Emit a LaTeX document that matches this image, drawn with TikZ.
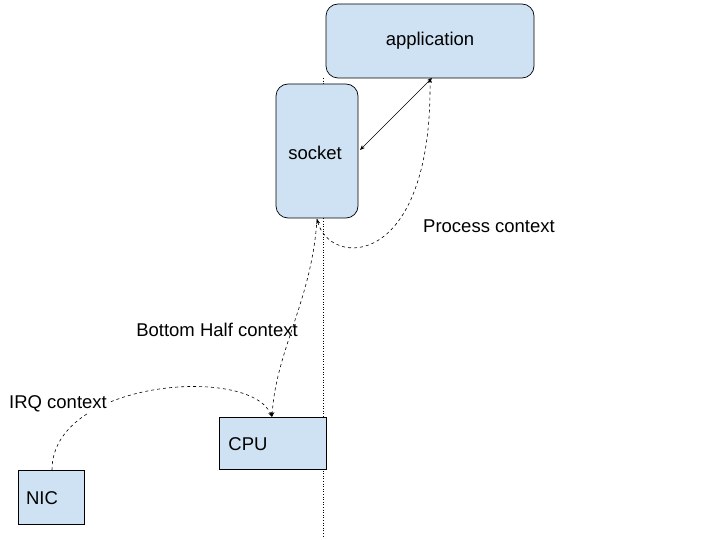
\documentclass[tikz,border=0pt]{standalone}
\usepackage{fontspec}
\setmainfont{Liberation Sans}
\usetikzlibrary{arrows.meta}
\begin{document}
\begin{tikzpicture}[x=1pt,y=-1pt,
  box/.style={draw,fill={rgb,255:red,207;green,226;blue,243},line width=0.7pt,inner sep=0pt},
  lbl/.style={font=\fontsize{18.5}{21}\selectfont},
  dsh/.style={dashed,line width=0.6pt,-{Stealth[length=5pt,width=4pt]}}]
\useasboundingbox (0,0) rectangle (720,540);
\draw[dotted,line width=0.6pt] (323,78) -- (323,538);
\node[box,rounded corners=12pt,minimum width=208pt,minimum height=74pt] (app) at (430,41) {};
\node[lbl] at (app) {application};
\node[box,rounded corners=12pt,minimum width=82pt,minimum height=134pt] (sock) at (317,151) {};
\node[lbl] at (315,153) {socket};
\node[box,minimum width=107pt,minimum height=52pt] (cpu) at (272.5,443) {};
\node[lbl] at (248,444) {CPU};
\node[box,minimum width=66pt,minimum height=54pt] (nic) at (51,497) {};
\node[lbl] at (42,498) {NIC};
\coordinate (a1) at (360,150);
\coordinate (a2) at (432,78);
\draw[line width=0.6pt,{Stealth[length=5pt,width=4pt]}-{Stealth[length=5pt,width=4pt]}] (a1) -- (a2);
\coordinate (sb) at (317,219);
\coordinate (ab) at (430,78);
\coordinate (ct) at (272,417);
\coordinate (nt) at (52,470);
\draw[dashed,line width=0.6pt,{Stealth[length=5pt,width=4pt]}-{Stealth[length=5pt,width=4pt]}] (sb) .. controls (330,268) and (432,270) .. (ab);
\draw[dsh] (sb) .. controls (312,300) and (276,350) .. (ct);
\draw[dsh] (nt) .. controls (52,380) and (250,365) .. (ct);
\node[lbl] (pc) at (489,226) {Process context};
\node[lbl] (bh) at (217,330) {Bottom Half context};
\node[lbl,fill=white,inner sep=1pt] (irq) at (58,404) {IRQ context};
\end{tikzpicture}
\end{document}
